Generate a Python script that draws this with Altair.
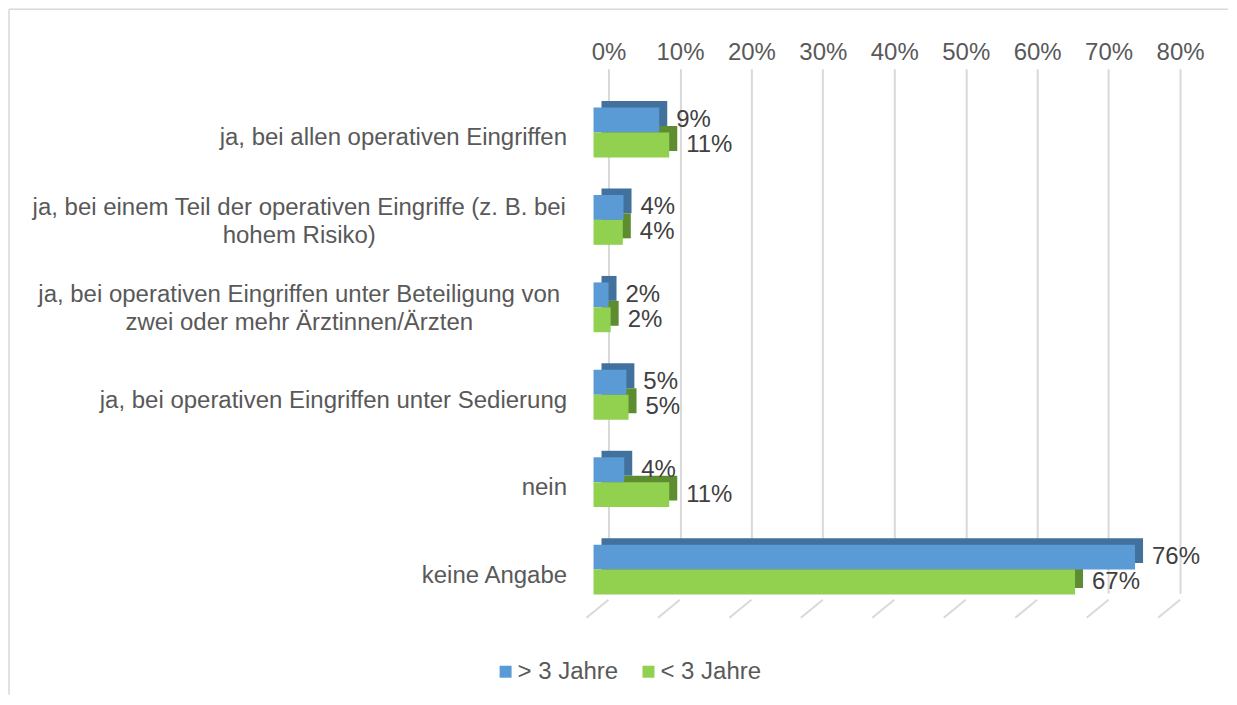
import altair as alt
import pandas as pd

FONT = "Liberation Sans, Arial, sans-serif"

categories = [
    "ja, bei allen operativen Eingriffen",
    "ja, bei einem Teil der operativen Eingriffe (z. B. bei|hohem Risiko)",
    "ja, bei operativen Eingriffen unter Beteiligung von|zwei oder mehr Ärztinnen/Ärzten",
    "ja, bei operativen Eingriffen unter Sedierung",
    "nein",
    "keine Angabe",
]
series = ["> 3 Jahre", "< 3 Jahre"]
values_gt3 = [0.092, 0.042, 0.021, 0.046, 0.043, 0.758]
values_lt3 = [0.106, 0.041, 0.024, 0.049, 0.106, 0.674]
ticks = [0, 0.1, 0.2, 0.3, 0.4, 0.5, 0.6, 0.7, 0.8]

front_colors = ["#5B9BD5", "#92D050"]
depth_colors = ["#41719C", "#5E8C31"]

rows = []
for c, a, b in zip(categories, values_gt3, values_lt3):
    rows.append({"cat": c, "series": series[0], "value": a})
    rows.append({"cat": c, "series": series[1], "value": b})
df = pd.DataFrame(rows)
tick_df = pd.DataFrame({"tick": ticks})
one_df = pd.DataFrame({"a": [0]})

W, H = 572, 525
FS = 24
MULTI = "indexof(datum.value, '|') >= 0"
xscale = alt.Scale(domain=[0, 0.8], nice=False)
xaxis = alt.Axis(orient="top", format="%", values=ticks, grid=True, gridColor="#D9D9D9",
                 gridWidth=2, ticks=False, domain=False, labelPadding=11, labelFontSize=FS,
                 labelFont=FONT, labelColor="#595959", labelFlush=False, labelOverlap=False,
                 minExtent=67, maxExtent=67, title=None)
band = dict(domain=categories, paddingInner=0.43, paddingOuter=0.215, align=0.86)
yoff = alt.YOffset("series:N", sort=series, scale=alt.Scale(domain=series))

floor = alt.Chart(tick_df).mark_rule(x2Offset=-22, color="#D9D9D9", strokeWidth=2).encode(
    x=alt.X("tick:Q", scale=xscale, axis=xaxis),
    x2="tick:Q",
    y=alt.value(H),
    y2=alt.value(H + 18),
)

depth = alt.Chart(df).mark_bar(xOffset=-7, x2Offset=-7).encode(
    x=alt.X("value:Q", scale=xscale, axis=xaxis),
    y=alt.Y("cat:N", sort=categories, scale=alt.Scale(range=[-6.5, H - 6.5], **band), axis=None),
    yOffset=yoff,
    color=alt.Color("series:N", sort=series, scale=alt.Scale(domain=series, range=depth_colors), legend=None),
)

front = alt.Chart(df).mark_bar(xOffset=-15, x2Offset=-15).encode(
    x=alt.X("value:Q", scale=xscale, axis=xaxis),
    y=alt.Y("cat:N", sort=categories, scale=alt.Scale(**band),
            axis=alt.Axis(title=None, domain=False, ticks=False, grid=False,
                          labelPadding={"condition": {"test": MULTI, "value": 310}, "value": 42},
                          labelAlign={"condition": {"test": MULTI, "value": "center"}, "value": "right"},
                          labelFontSize=FS, labelFont=FONT, labelColor="#595959",
                          labelLineHeight=28, labelLimit=0,
                          labelOffset={"condition": {"test": MULTI, "value": -12}, "value": 6},
                          labelExpr="split(datum.label, '|')", minExtent=600, maxExtent=600)),
    yOffset=yoff,
    color=alt.Color("series:N", sort=series, scale=alt.Scale(domain=series, range=front_colors),
                    legend=alt.Legend(orient="none", legendX=-115, legendY=585, direction="horizontal",
                                      title=None, symbolType="square", symbolSize=144,
                                      symbolStrokeWidth=0, labelFontSize=FS, labelFont=FONT,
                                      labelColor="#595959", labelOffset=0, columnPadding=18,
                                      padding=0)),
)

labels = alt.Chart(df).mark_text(align="left", baseline="middle", dx=2, fontSize=FS, font=FONT,
                                 color="#404040").encode(
    x=alt.X("value:Q", scale=xscale, axis=xaxis),
    y=alt.Y("cat:N", sort=categories, scale=alt.Scale(**band), axis=None),
    yOffset=yoff,
    text=alt.Text("value:Q", format=".0%"),
)

border_top = alt.Chart(one_df).mark_rule(color="#D9D9D9", strokeWidth=1.5).encode(
    x=alt.value(-600), x2=alt.value(620), y=alt.value(-66))
border_left = alt.Chart(one_df).mark_rule(color="#D9D9D9", strokeWidth=1.5).encode(
    x=alt.value(-600), y=alt.value(-66), y2=alt.value(620))

chart = alt.layer(border_top, border_left, floor, depth, front, labels).resolve_scale(
    y="independent", yOffset="independent", color="independent"
).properties(width=W, height=H, padding=0).configure_view(stroke=None)

chart.save("out.html", embed_options={"renderer": "svg", "actions": False})
